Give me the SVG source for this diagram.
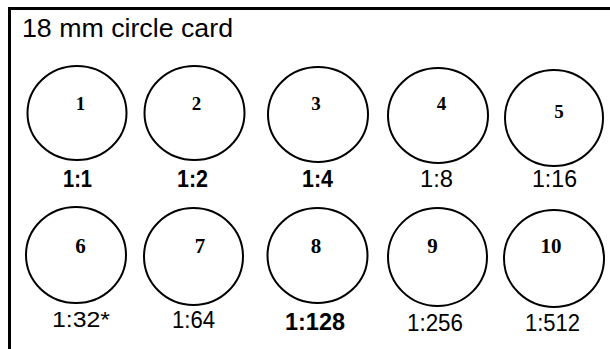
<svg xmlns="http://www.w3.org/2000/svg" width="610" height="349" viewBox="0 0 610 349">
<style>
.card{fill:#fff;stroke:#000;stroke-width:3}
.c{fill:none;stroke:#000;stroke-width:2}
.n{font-family:"Liberation Serif",serif;font-weight:bold;text-anchor:middle;fill:#000}
.r{font-family:"Liberation Sans",sans-serif;text-anchor:middle;fill:#000}
.t{font-family:"Liberation Sans",sans-serif;fill:#000}
</style>
<rect width="610" height="349" fill="#fff"/>
<rect class="card" x="9.5" y="8.5" width="640" height="380"/>
<text class="t" x="22" y="36.5" font-size="25" textLength="211" lengthAdjust="spacingAndGlyphs">18 mm circle card</text>
<g id="connectors"/>
<g id="n1"><ellipse class="c" cx="77" cy="113" rx="49.5" ry="47"/><text class="n" x="80.5" y="110" font-size="19">1</text><text class="r" x="77.5" y="187" font-size="23" font-weight="bold" textLength="29" lengthAdjust="spacingAndGlyphs">1:1</text></g>
<g id="n2"><ellipse class="c" cx="194.5" cy="113" rx="50" ry="47"/><text class="n" x="196.5" y="110" font-size="19">2</text><text class="r" x="192.5" y="187" font-size="23" font-weight="bold" textLength="31" lengthAdjust="spacingAndGlyphs">1:2</text></g>
<g id="n3"><ellipse class="c" cx="318" cy="114.5" rx="50" ry="47.5"/><text class="n" x="316" y="110" font-size="19">3</text><text class="r" x="317.5" y="187" font-size="23" font-weight="bold" textLength="31" lengthAdjust="spacingAndGlyphs">1:4</text></g>
<g id="n4"><ellipse class="c" cx="438" cy="115.5" rx="50" ry="47.5"/><text class="n" x="441.5" y="110" font-size="19">4</text><text class="r" x="436.5" y="187" font-size="23" textLength="33" lengthAdjust="spacingAndGlyphs">1:8</text></g>
<g id="n5"><ellipse class="c" cx="554" cy="118" rx="49" ry="48"/><text class="n" x="559" y="118" font-size="19">5</text><text class="r" x="554.5" y="187" font-size="23" textLength="45" lengthAdjust="spacingAndGlyphs">1:16</text></g>
<g id="n6"><ellipse class="c" cx="76" cy="255" rx="50" ry="48"/><text class="n" x="80.5" y="253" font-size="21">6</text><text class="r" x="81" y="327" font-size="22" textLength="58" lengthAdjust="spacingAndGlyphs">1:32*</text></g>
<g id="n7"><ellipse class="c" cx="193.5" cy="256.5" rx="49.5" ry="48.5"/><text class="n" x="200" y="253" font-size="21" font-weight="normal">7</text><text class="r" x="193.5" y="328" font-size="23" textLength="43" lengthAdjust="spacingAndGlyphs">1:64</text></g>
<g id="n8"><ellipse class="c" cx="317.5" cy="255.5" rx="50" ry="47.5"/><text class="n" x="316" y="253" font-size="21">8</text><text class="r" x="315" y="330" font-size="24" font-weight="bold" textLength="60" lengthAdjust="spacingAndGlyphs">1:128</text></g>
<g id="n9"><ellipse class="c" cx="437.5" cy="257" rx="49.5" ry="49"/><text class="n" x="432.5" y="253" font-size="21">9</text><text class="r" x="435" y="331" font-size="24" textLength="56" lengthAdjust="spacingAndGlyphs">1:256</text></g>
<g id="n10"><ellipse class="c" cx="554" cy="258.5" rx="50" ry="48.5"/><text class="n" x="551" y="253" font-size="21">10</text><text class="r" x="552.5" y="331" font-size="24" textLength="55" lengthAdjust="spacingAndGlyphs">1:512</text></g>
</svg>
